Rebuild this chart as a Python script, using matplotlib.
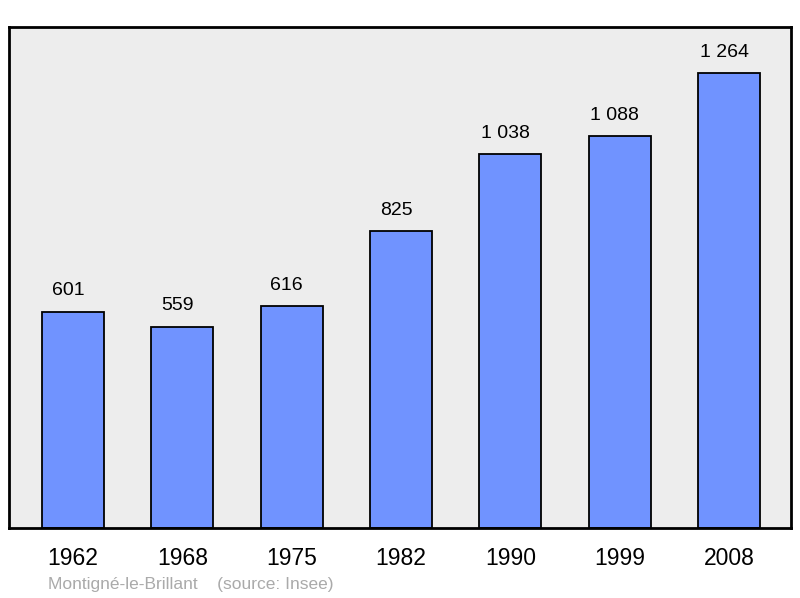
import matplotlib
matplotlib.use('Agg')
import matplotlib.pyplot as plt

plt.rcParams['font.family'] = ['Liberation Sans', 'DejaVu Sans']

years = ['1962', '1968', '1975', '1982', '1990', '1999', '2008']
population = [601, 559, 616, 825, 1038, 1088, 1264]


def fmt(v):
    # french style thousands separator
    return f"{v:,}".replace(',', ' ')


fig = plt.figure(figsize=(8, 5.98), dpi=100)
ax = fig.add_axes([9 / 800, 70 / 598, 782 / 800, 501 / 598])
ax.set_facecolor('#ededed')

x = range(len(years))
bars = ax.bar(x, population, width=0.567, color='#7093ff', edgecolor='black', linewidth=1.3)

for xi, v in zip(x, population):
    ax.annotate(fmt(v), (xi, v), xytext=(-3.5, 9), textcoords='offset points',
                ha='center', va='bottom', fontsize=14)

ax.set_xlim(-0.585, 6.567)
ax.set_ylim(0, 1392)
ax.set_xticks(list(x))
ax.set_xticklabels(years, fontsize=16.5)
ax.tick_params(axis='x', length=0, pad=14)
ax.set_yticks([])
for s in ax.spines.values():
    s.set_linewidth(2)

fig.text(48 / 800, 1 - 584 / 598, 'Montigné-le-Brillant    (source: Insee)',
         color='#aaaaaa', fontsize=12.5, va='center', ha='left')

fig.savefig('out.png', dpi=100)
